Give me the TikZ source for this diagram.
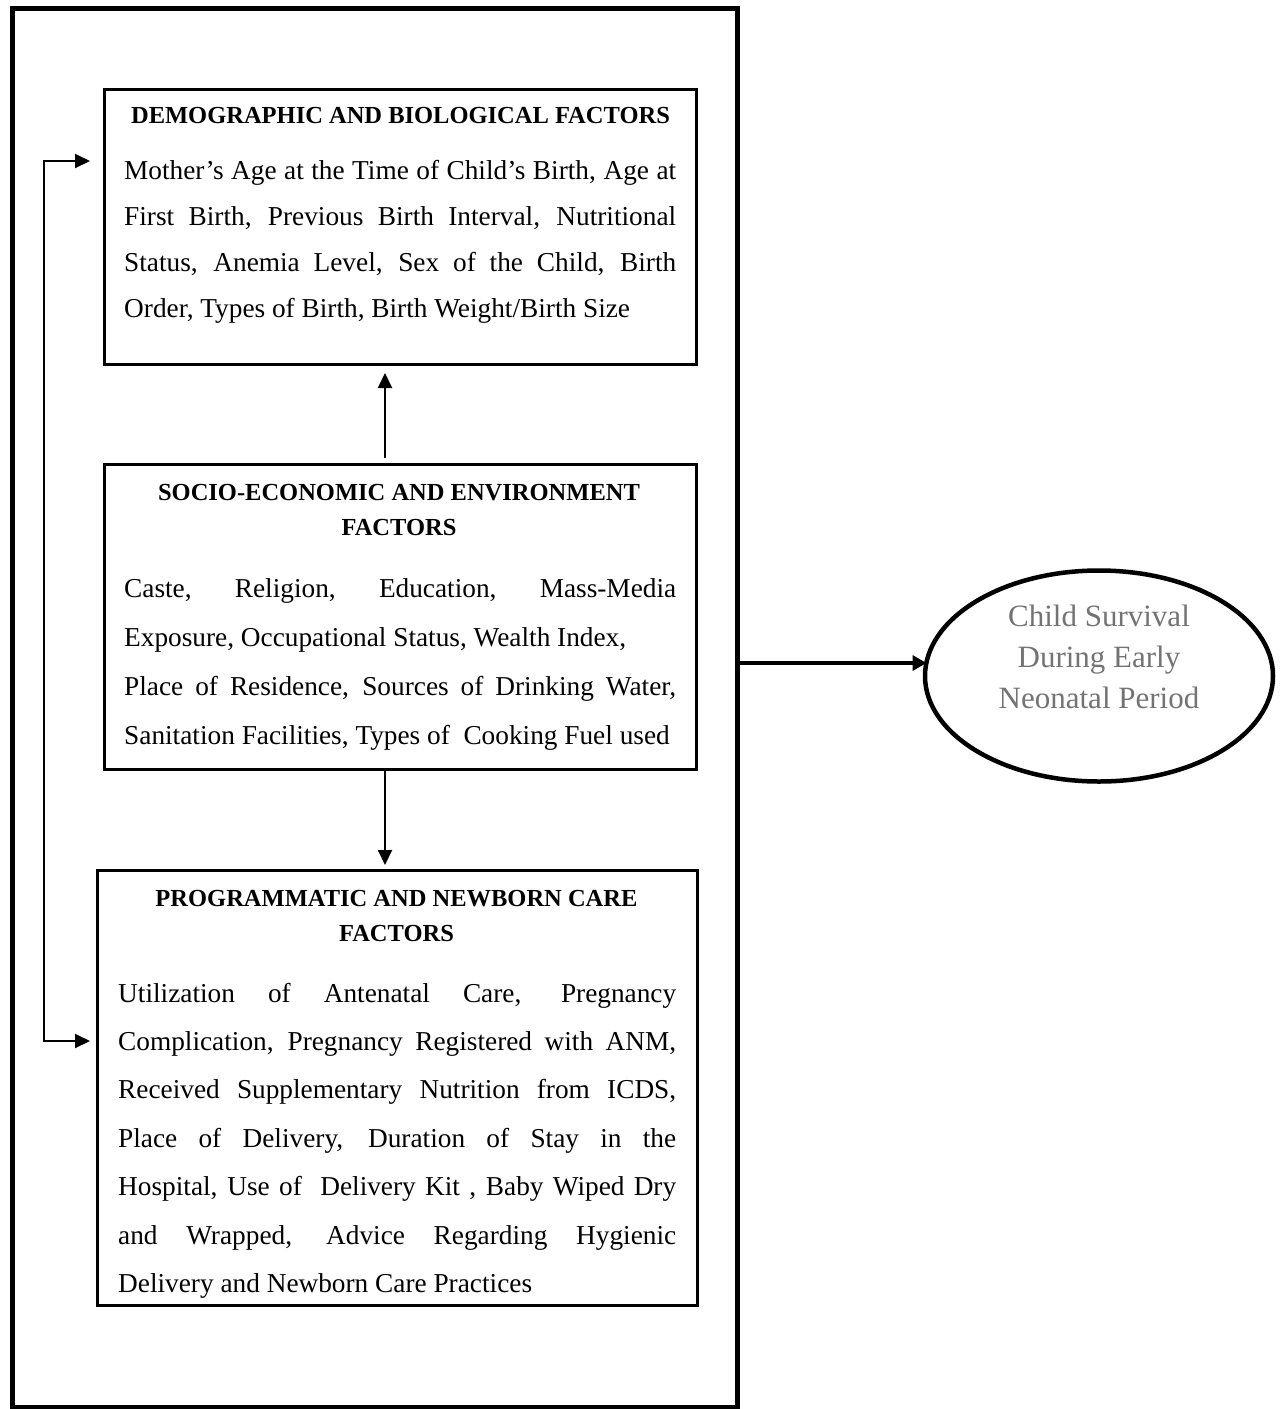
\documentclass[tikz,border=0pt]{standalone}
\usepackage{fontspec}
\setmainfont{Liberation Serif}
\usetikzlibrary{arrows.meta,shapes.geometric}
\newcommand{\jline}[1]{\makebox[\linewidth][s]{#1}}
\newcommand{\lline}[1]{\makebox[\linewidth][l]{#1}}
\newcommand{\myhead}[2]{\parbox[t]{#1}{\centering\bfseries\fontsize{24.5}{35}\selectfont #2}}
\begin{document}
\begin{tikzpicture}[x=1pt,y=-1pt,
  outerframe/.style={draw, line width=5pt, inner sep=0pt, outer sep=0pt, minimum width=725pt, minimum height=1399pt},
  factbox/.style={draw, line width=3pt, inner sep=0pt, outer sep=0pt},
  headtext/.style={inner sep=0pt, anchor=base},
  bodytext/.style={inner sep=0pt, anchor=base west},
  varr/.style={line width=2pt, -{Triangle[length=15pt,width=14pt]}},
  fbarr/.style={line width=2pt, {Triangle[length=15pt,width=14pt]}-{Triangle[length=15pt,width=14pt]}},
  harr/.style={line width=3.8pt, -{Triangle[length=14pt,width=15pt]}},
  outcome/.style={draw, ellipse, line width=4.5pt, inner sep=0pt, outer sep=0pt, minimum width=348pt, minimum height=211pt},
  ]
\useasboundingbox (0,0) rectangle (1283,1409);

% outer frame
\node[outerframe] (frame) at (374.5,707.5) {};

% boxes
\node[factbox, minimum width=592pt, minimum height=275pt] (demo) at (400,226.5) {};
\node[factbox, minimum width=592pt, minimum height=305pt] (socio) at (400,616.5) {};
\node[factbox, minimum width=600pt, minimum height=435pt] (prog) at (397,1087.5) {};

% outcome ellipse
\node[outcome] (out) at (1099,676) {};
\node[inner sep=0pt, anchor=base, text=black!55] (outtext) at (1099,626)
  {\parbox[t]{320pt}{\centering\fontsize{31}{41}\selectfont Child Survival\\During Early\\Neonatal Period}};

% box 1 text
\node[headtext] (demoh) at (400.5,123) {\myhead{580pt}{DEMOGRAPHIC AND BIOLOGICAL FACTORS}};
\node[bodytext] (demob) at (124,179) {\parbox[t]{552pt}{\fontsize{27.3}{46}\selectfont
  \jline{Mother’s Age at the Time of Child’s Birth, Age at}\\
  \jline{First Birth, Previous Birth Interval, Nutritional}\\
  \jline{Status, Anemia Level, Sex of the Child, Birth}\\
  \lline{Order, Types of Birth, Birth Weight/Birth Size}}};

% box 2 text
\node[headtext] (socioh) at (399,500) {\myhead{580pt}{SOCIO-ECONOMIC AND ENVIRONMENT\\FACTORS}};
\node[bodytext] (sociob) at (124,597) {\parbox[t]{552pt}{\fontsize{27.3}{49}\selectfont
  \jline{Caste, Religion, Education, Mass-Media}\\
  \lline{Exposure, Occupational Status, Wealth Index,}\\
  \jline{Place of Residence, Sources of Drinking Water,}\\
  \lline{Sanitation Facilities, Types of~ Cooking Fuel used}}};

% box 3 text
\node[headtext] (progh) at (396.5,906) {\myhead{590pt}{PROGRAMMATIC AND NEWBORN CARE\\FACTORS}};
\node[bodytext] (progb) at (118,1002) {\parbox[t]{558pt}{\fontsize{27.3}{48.4}\selectfont
  \jline{Utilization of Antenatal Care, Pregnancy}\\
  \jline{Complication, Pregnancy Registered with ANM,}\\
  \jline{Received Supplementary Nutrition from ICDS,}\\
  \jline{Place of Delivery, Duration of Stay in the}\\
  \jline{Hospital, Use of~ Delivery Kit , Baby Wiped Dry}\\
  \jline{and Wrapped, Advice Regarding Hygienic}\\
  \lline{Delivery and Newborn Care Practices}}};

% vertical arrows
\draw[varr, shorten <=6pt, shorten >=9pt] ([xshift=-15pt]socio.north) -- ([xshift=-15pt]demo.south);
\draw[varr, shorten >=5pt] ([xshift=-15pt]socio.south) -- ([xshift=-15pt]socio.south |- prog.north);

% feedback connector
\coordinate (fbt) at (90,161);
\coordinate (fbx) at (44,600);
\coordinate (fbb) at (90,1041);
\draw[fbarr] (fbt) -| (fbx) |- (fbb);

% arrow to outcome
\coordinate (outin) at ([xshift=1.5pt,yshift=13pt]out.west);
\draw[harr] (frame.east |- outin) -- (outin);
\end{tikzpicture}
\end{document}
